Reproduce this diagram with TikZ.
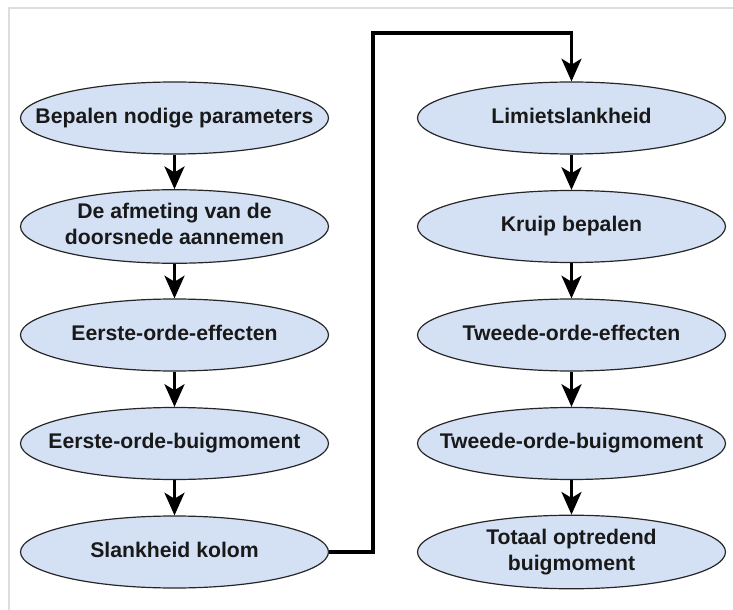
\documentclass[tikz,border=0pt]{standalone}
\usepackage{fontspec}
\setmainfont{Liberation Sans}
\usetikzlibrary{shapes.geometric,arrows.meta}
\definecolor{ellfill}{HTML}{D4E1F5}
\definecolor{framegray}{HTML}{DDDDDD}
\newcommand\ctext[1]{\makebox[0pt][c]{\raisebox{-1.2pt}{\begin{tabular}{@{}c@{}}#1\end{tabular}}}}
\tikzset{
  stepell/.style={ellipse, draw=black!85, line width=0.9pt, fill=ellfill,
    minimum width=231pt, minimum height=54pt, inner sep=0pt,
    font=\fontsize{15.9pt}{19.5pt}\selectfont\bfseries, text=black!90},
  conn/.style={draw=black, line width=2.4pt, line join=miter,
    -{Stealth[length=17pt, width=15pt, inset=4.5pt]}},
}
\begin{document}
\begin{tikzpicture}[x=0.75pt,y=-0.75pt]
\useasboundingbox (0,0) rectangle (733,610);
\draw[framegray, line width=1.5pt] (733,8.5) -- (8.5,8.5) -- (8.5,610);
% left column
\node[stepell] (a1) at (174.5,118) {\ctext{Bepalen nodige parameters}};
\node[stepell] (a2) at (174.5,226.5) {\ctext{De afmeting van de\\doorsnede aannemen}};
\node[stepell] (a3) at (174.5,335) {\ctext{Eerste-orde-effecten}};
\node[stepell] (a4) at (174.5,443.5) {\ctext{Eerste-orde-buigmoment}};
\node[stepell] (a5) at (174.5,552) {\ctext{Slankheid kolom}};
% right column
\node[stepell] (b1) at (571.5,118) {\ctext{Limietslankheid}};
\node[stepell] (b2) at (571.5,226.5) {\ctext{Kruip bepalen}};
\node[stepell] (b3) at (571.5,335) {\ctext{Tweede-orde-effecten}};
\node[stepell] (b4) at (571.5,443.5) {\ctext{Tweede-orde-buigmoment}};
\node[stepell] (b5) at (571.5,552) {\ctext{Totaal optredend\\buigmoment}};
% connectors
\draw[conn] (a1) -- (a2);
\draw[conn] (a2) -- (a3);
\draw[conn] (a3) -- (a4);
\draw[conn] (a4) -- (a5);
\coordinate (turn) at (373,33);
\draw[conn] (a5.east) -| (turn) -| (b1.north);
\draw[conn] (b1) -- (b2);
\draw[conn] (b2) -- (b3);
\draw[conn] (b3) -- (b4);
\draw[conn] (b4) -- (b5);
\end{tikzpicture}
\end{document}
